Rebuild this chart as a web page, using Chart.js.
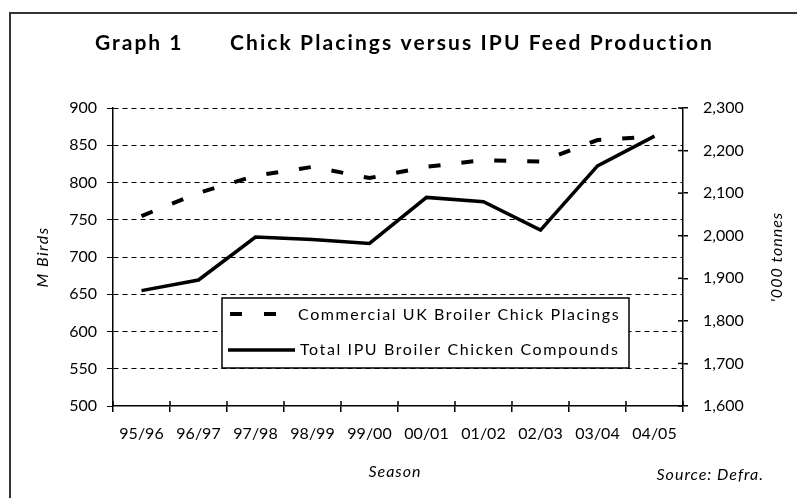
<!DOCTYPE html>
<html>
<head>
<meta charset="utf-8">
<script src="https://cdn.jsdelivr.net/npm/chart.js@4.4.0/dist/chart.umd.min.js"></script>
<style>
  html, body { margin: 0; padding: 0; background: #fff; overflow: hidden; }
  #wrap { position: relative; width: 797px; height: 498px; }
  #frame { position: absolute; left: 9px; top: 12px; width: 800px; height: 500px;
           border-left: 2px solid #333; border-top: 2px solid #333; }
  #c { position: absolute; left: 0; top: 0; }
</style>
</head>
<body>
<div id="wrap">
  <div id="frame"></div>
  <canvas id="c" width="797" height="498"></canvas>
</div>
<script>
const seasons = ['95/96', '96/97', '97/98', '98/99', '99/00', '00/01', '01/02', '02/03', '03/04', '04/05'];
// M birds (left axis)
const chickPlacings = [755, 786, 809, 821, 806, 821, 830, 828, 857, 862];
// '000 tonnes (right axis)
const feedProduction = [1871, 1896, 1997, 1991, 1982, 2090, 2080, 2013, 2164, 2234];

const leftTicks = { min: 500, max: 900, step: 50 };
const rightTicks = { min: 1600, max: 2300, step: 100 };

const FONT = 'Lato';

// draws text with extra letter spacing (the original face is wide)
function spaced(ctx, text, x, y, spacing) {
  ctx.letterSpacing = spacing + 'px';
  ctx.fillText(text, x, y);
  ctx.letterSpacing = '0px';
}

const decor = {
  id: 'decor',
  afterDraw(chart) {
    const ctx = chart.ctx;
    const a = chart.chartArea;
    ctx.save();
    ctx.fillStyle = '#000';

    // title
    ctx.font = 'bold 21px ' + FONT;
    ctx.textBaseline = 'alphabetic';
    ctx.textAlign = 'left';
    spaced(ctx, 'Graph 1', 95, 50, 2);
    spaced(ctx, 'Chick Placings versus IPU Feed Production', 230, 50, 2.1);

    // axis titles
    ctx.font = 'italic 16px ' + FONT;
    ctx.textBaseline = 'middle';
    ctx.textAlign = 'left';
    ctx.save();
    ctx.translate(43, (a.top + a.bottom) / 2);
    ctx.rotate(-Math.PI / 2);
    ctx.letterSpacing = '1.5px';
    const wl = ctx.measureText('M Birds').width;
    ctx.fillText('M Birds', -wl / 2, 0);
    ctx.restore();

    ctx.save();
    ctx.translate(777, (a.top + a.bottom) / 2);
    ctx.rotate(-Math.PI / 2);
    ctx.letterSpacing = '1px';
    const wr = ctx.measureText("'000 tonnes").width;
    ctx.fillText("'000 tonnes", -wr / 2, 0);
    ctx.restore();

    ctx.letterSpacing = '1px';
    const ws = ctx.measureText('Season').width;
    ctx.fillText('Season', (a.left + a.right) / 2 - ws / 2 - 3, 472);
    const wsrc = ctx.measureText('Source: Defra.').width;
    ctx.fillText('Source: Defra.', 764 - wsrc, 475);
    ctx.letterSpacing = '0px';

    // inner halves of the axis ticks
    ctx.strokeStyle = '#000';
    ctx.lineWidth = 1.5;
    const n = seasons.length;
    for (let i = 0; i <= n; i++) {
      const px = a.left + (a.right - a.left) * i / n;
      ctx.beginPath();
      ctx.moveTo(px, a.bottom - 5);
      ctx.lineTo(px, a.bottom);
      ctx.stroke();
    }
    const ys = chart.scales.y1;
    for (let v = rightTicks.min; v <= rightTicks.max; v += rightTicks.step) {
      const py = ys.getPixelForValue(v);
      ctx.beginPath();
      ctx.moveTo(a.right - 5, py);
      ctx.lineTo(a.right, py);
      ctx.stroke();
    }

    // legend box inside the plot
    const bx = 222, by = 298, bw = 407, bh = 70;
    ctx.fillStyle = '#fff';
    ctx.fillRect(bx, by, bw, bh);
    ctx.lineWidth = 1.5;
    ctx.strokeRect(bx, by, bw, bh);

    const sets = chart.data.datasets;
    ctx.lineWidth = sets[0].borderWidth;
    ctx.setLineDash([12, 22]);
    ctx.beginPath();
    ctx.moveTo(230, 314);
    ctx.lineTo(290, 314);
    ctx.stroke();
    ctx.setLineDash([]);
    ctx.lineWidth = sets[1].borderWidth;
    ctx.beginPath();
    ctx.moveTo(228, 350);
    ctx.lineTo(295, 350);
    ctx.stroke();

    ctx.fillStyle = '#000';
    ctx.font = '16px ' + FONT;
    ctx.textAlign = 'left';
    ctx.textBaseline = 'middle';
    spaced(ctx, sets[0].label, 298, 315, 1.6);
    spaced(ctx, sets[1].label, 300, 350, 1.6);
    ctx.restore();
  }
};

new Chart(document.getElementById('c'), {
  type: 'line',
  data: {
    labels: seasons,
    datasets: [{
      label: 'Commercial UK Broiler Chick Placings',
      data: chickPlacings,
      yAxisID: 'y',
      borderColor: '#000',
      borderWidth: 4,
      borderDash: [12, 21],
      borderCapStyle: 'butt',
      pointRadius: 0,
      tension: 0,
      fill: false
    }, {
      label: 'Total IPU Broiler Chicken Compounds',
      data: feedProduction,
      yAxisID: 'y1',
      borderColor: '#000',
      borderWidth: 3.5,
      pointRadius: 0,
      tension: 0,
      fill: false
    }]
  },
  options: {
    responsive: false,
    animation: false,
    layout: { padding: { top: 108, left: 0, right: 0, bottom: 0 } },
    plugins: {
      legend: { display: false },
      tooltip: { enabled: false },
      title: { display: false }
    },
    scales: {
      x: {
        offset: true,
        grid: { offset: true, drawOnChartArea: false, color: '#000', lineWidth: 1.5, tickLength: 6 },
        border: { color: '#000', width: 1.5 },
        ticks: { color: '#000', font: { family: FONT, size: 16 }, padding: 12, maxRotation: 0, autoSkip: false },
        afterFit: s => { s.height = 92; }
      },
      y: {
        position: 'left',
        min: leftTicks.min,
        max: leftTicks.max,
        ticks: { stepSize: leftTicks.step, color: '#000', font: { family: FONT, size: 16 }, padding: 10 },
        grid: {
          color: c => (c.tick && c.tick.value === leftTicks.min) ? 'rgba(0,0,0,0)' : '#000',
          tickColor: '#000',
          lineWidth: 1,
          tickLength: 6
        },
        border: { color: '#000', width: 1.5, dash: [5, 4] },
        afterFit: s => { s.width = 113; }
      },
      y1: {
        position: 'right',
        min: rightTicks.min,
        max: rightTicks.max,
        ticks: {
          stepSize: rightTicks.step, color: '#000', font: { family: FONT, size: 16 }, padding: 15,
          callback: v => v.toLocaleString('en-US')
        },
        grid: { drawOnChartArea: false, color: '#000', lineWidth: 1.5, tickLength: 5 },
        border: { color: '#000', width: 1.5 },
        afterFit: s => { s.width = 114; }
      }
    }
  },
  plugins: [decor]
});
</script>
</body>
</html>
